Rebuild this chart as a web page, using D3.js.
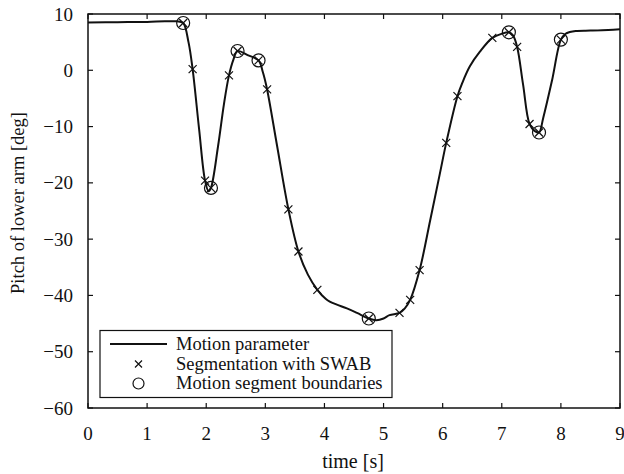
<!DOCTYPE html>
<html><head><meta charset="utf-8">
<script src="https://cdn.jsdelivr.net/npm/d3@7"></script>
<style>body{margin:0;background:#fff}svg{display:block}text{font-family:"Liberation Serif","Times New Roman",serif;fill:#111}</style>
</head><body><svg id="c" width="624" height="474"></svg>
<script>
// Motion parameter (pitch of lower arm) over time
const timeS = [0,0.5,1.0,1.3,1.5,1.61,1.7,1.77,1.88,1.98,2.04,2.08,2.2,2.3,2.385,2.46,2.53,2.7,2.885,2.96,3.03,3.2,3.39,3.56,3.72,3.88,4.02,4.09,4.2,4.38,4.55,4.75,4.88,5.0,5.1,5.27,5.36,5.45,5.61,5.79,5.95,6.06,6.25,6.33,6.46,6.63,6.84,7.0,7.12,7.19,7.26,7.36,7.47,7.56,7.63,7.7,7.85,8.0,8.08,8.15,8.25,8.5,8.8,9.0];
const pitch = [8.5,8.55,8.6,8.7,8.7,8.4,5.0,0.2,-10.5,-19.6,-21.5,-20.9,-13.5,-6.0,-0.9,1.9,3.43,2.7,1.75,-0.4,-3.4,-13.5,-24.7,-32.2,-36.3,-39.0,-40.6,-41.1,-41.6,-42.3,-43.1,-44.1,-44.4,-44.1,-43.5,-43.1,-42.3,-40.8,-35.5,-26.6,-18.5,-12.9,-4.6,-2.3,0.7,3.3,5.75,6.5,6.75,6.2,4.15,-2.5,-9.55,-10.8,-11.05,-8.5,-1.8,5.45,6.5,6.8,7.0,7.05,7.15,7.3];
// Segmentation with SWAB
const swabT = [1.61,1.77,1.98,2.08,2.385,2.53,2.885,3.03,3.39,3.56,3.88,4.75,5.27,5.45,5.61,6.06,6.25,6.84,7.12,7.26,7.47,7.63,8.0];
const swabV = [8.4,0.2,-19.6,-20.9,-0.9,3.43,1.75,-3.4,-24.7,-32.2,-39.0,-44.1,-43.1,-40.8,-35.5,-12.9,-4.6,5.75,6.75,4.15,-9.55,-11.05,5.45];
// Motion segment boundaries
const boundT = [1.61,2.08,2.53,2.885,4.75,7.12,7.63,8.0];
const boundV = [8.4,-20.9,3.43,1.75,-44.1,6.75,-11.05,5.45];
const xTicks = [0,1,2,3,4,5,6,7,8,9];
const yTicks = [10,0,-10,-20,-30,-40,-50,-60];
const legendLabels = ["Motion parameter","Segmentation with SWAB","Motion segment boundaries"];

const svg = d3.select("#c");
const L=88,R=620,T=14,B=408;
const x = d3.scaleLinear().domain([0,9]).range([L,R]);
const y = d3.scaleLinear().domain([-60,10]).range([B,T]);

// ticks inward on all sides
const tk=5;
const g = svg.append("g").attr("stroke","#111").attr("stroke-width",1.2);
xTicks.forEach(v=>{
  g.append("line").attr("x1",x(v)).attr("x2",x(v)).attr("y1",B).attr("y2",B-tk);
  g.append("line").attr("x1",x(v)).attr("x2",x(v)).attr("y1",T).attr("y2",T+tk);
});
yTicks.forEach(v=>{
  g.append("line").attr("x1",L).attr("x2",L+tk).attr("y1",y(v)).attr("y2",y(v));
  g.append("line").attr("x1",R).attr("x2",R-tk).attr("y1",y(v)).attr("y2",y(v));
});
svg.selectAll(".xt").data(xTicks).enter().append("text")
  .attr("x",d=>x(d)).attr("y",440).attr("text-anchor","middle").attr("font-size",19)
  .text(d=>d);
svg.selectAll(".yt").data(yTicks).enter().append("text")
  .attr("x",73).attr("y",d=>y(d)+6.5).attr("text-anchor","end").attr("font-size",19)
  .text(d=>d<0?"\u2212"+Math.abs(d):d);
svg.append("text").attr("x",(L+R)/2-1).attr("y",468).attr("text-anchor","middle").attr("font-size",20).text("time [s]");
svg.append("text").attr("transform","translate(24,203) rotate(-90)").attr("text-anchor","middle").attr("font-size",18.5).text("Pitch of lower arm [deg]");

// curve
const pts = timeS.map((t,i)=>[t,pitch[i]]);
const line = d3.line().x(d=>x(d[0])).y(d=>y(d[1])).curve(d3.curveCatmullRom.alpha(0.5));
svg.append("path").attr("d",line(pts)).attr("fill","none").attr("stroke","#111").attr("stroke-width",2);

// SWAB crosses
const cs=4;
const crossPath=(cx,cy,s)=>`M${cx-s},${cy-s}L${cx+s},${cy+s}M${cx-s},${cy+s}L${cx+s},${cy-s}`;
svg.append("g").selectAll("path").data(swabT.map((t,i)=>[t,swabV[i]])).enter().append("path")
  .attr("d",d=>crossPath(x(d[0]),y(d[1]),cs)).attr("stroke","#111").attr("stroke-width",1.2).attr("fill","none");
// boundaries circles
svg.append("g").selectAll("circle").data(boundT.map((t,i)=>[t,boundV[i]])).enter().append("circle")
  .attr("cx",d=>x(d[0])).attr("cy",d=>y(d[1])).attr("r",6.5).attr("fill","none").attr("stroke","#111").attr("stroke-width",1.2);

// legend
svg.append("rect").attr("x",100).attr("y",330.5).attr("width",292).attr("height",67).attr("fill","#fff").attr("stroke","#111").attr("stroke-width",1.2);
svg.append("line").attr("x1",110).attr("x2",167).attr("y1",344).attr("y2",344).attr("stroke","#111").attr("stroke-width",2);
svg.append("path").attr("d",crossPath(138.5,364,3.5)).attr("stroke","#111").attr("stroke-width",1.2);
svg.append("circle").attr("cx",138.5).attr("cy",383.5).attr("r",5.5).attr("fill","none").attr("stroke","#111").attr("stroke-width",1.2);
legendLabels.forEach((s,i)=>svg.append("text").attr("x",176).attr("y",350+i*19.5).attr("font-size",18.5).text(s));

// frame
svg.append("rect").attr("x",L).attr("y",T).attr("width",R-L).attr("height",B-T).attr("fill","none").attr("stroke","#111").attr("stroke-width",1.5);
</script></body></html>
